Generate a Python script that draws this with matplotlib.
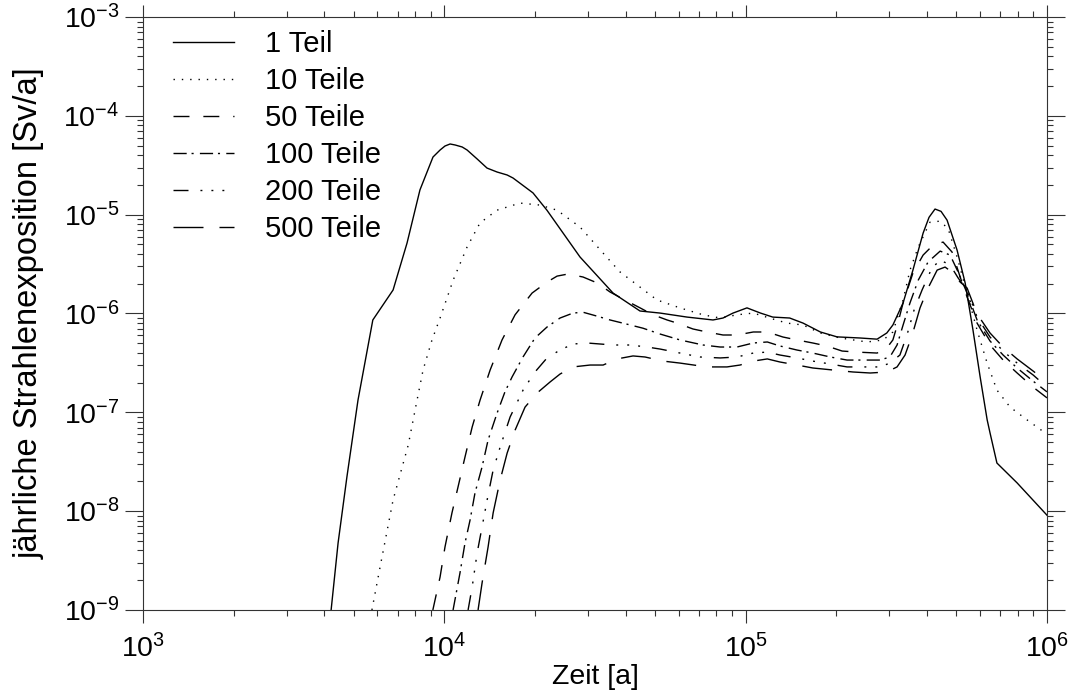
import matplotlib
matplotlib.use("Agg")
import matplotlib.pyplot as plt
from matplotlib.ticker import LogLocator, NullFormatter

plt.rcParams['font.family'] = ['Liberation Sans', 'DejaVu Sans']
plt.rcParams['mathtext.fontset'] = 'custom'
plt.rcParams['mathtext.rm'] = 'Liberation Sans'
plt.rcParams['mathtext.it'] = 'Liberation Sans:italic'
plt.rcParams['mathtext.bf'] = 'Liberation Sans:bold'

# Zeit [a] und jaehrliche Strahlenexposition [Sv/a]
t_1 = [4210, 4440, 4750, 5170, 5790, 6760, 7520, 8300, 9170, 9680, 10050, 10450, 10860, 11460, 11900,
       12850, 13860, 14970, 16160, 16900, 19690, 21900, 28200, 36300, 44600, 52000, 63900, 77900, 84100,
       90800, 101000, 112000, 123000, 140000, 155000, 177000, 201000, 240000, 273000, 294000, 308000,
       333000, 359000, 388000, 406000, 425000, 445000, 466000, 503000, 535000, 568000, 600000, 633000,
       647000, 682000, 796000, 1000000]
d_1 = [1.0e-9, 4.76e-9, 2.22e-8, 1.33e-7, 8.6e-7, 1.73e-6, 5.16e-6, 1.78e-5, 3.83e-5, 4.51e-5, 4.95e-5,
       5.19e-5, 5.07e-5, 4.84e-5, 4.51e-5, 3.66e-5, 2.96e-5, 2.7e-5, 2.52e-5, 2.35e-5, 1.66e-5, 1.11e-5,
       3.73e-6, 1.61e-6, 1.06e-6, 1.01e-6, 9.2e-7, 8.6e-7, 9.0e-7, 1.01e-6, 1.14e-6, 1.01e-6, 9.2e-7,
       9.0e-7, 8.0e-7, 6.5e-7, 5.8e-7, 5.65e-7, 5.5e-7, 6.35e-7, 7.65e-7, 1.28e-6, 2.75e-6, 6.5e-6,
       9.4e-6, 1.14e-5, 1.08e-5, 8.8e-6, 4.38e-6, 2.04e-6, 6.8e-7, 2.28e-7, 8.4e-8, 6.2e-8, 3.07e-8,
       1.93e-8, 9.1e-9]

t_10 = [5750, 6120, 6760, 7590, 8060, 8500, 9100, 9680, 10700, 11900, 13130, 14950, 17830, 20780, 23670,
        28200, 34100, 38300, 44600, 50800, 60500, 72200, 82300, 93600, 106000, 120000, 137000, 155000,
        177000, 206000, 253000, 286000, 308000, 333000, 351000, 374000, 409000, 442000, 470000, 503000,
        543000, 586000, 633000, 682000, 754000, 858000, 1000000]
d_10 = [1.0e-9, 2.72e-9, 1.30e-8, 4.67e-8, 1.19e-7, 2.68e-7, 5.4e-7, 9.0e-7, 2.18e-6, 4.71e-6, 8.24e-6,
        1.11e-5, 1.31e-5, 1.25e-5, 1.11e-5, 7.5e-6, 3.9e-6, 2.63e-6, 1.85e-6, 1.37e-6, 1.14e-6, 9.7e-7,
        9.0e-7, 9.7e-7, 1.01e-6, 9.0e-7, 8.0e-7, 7.65e-7, 6.35e-7, 5.65e-7, 5.15e-7, 5.4e-7, 6.5e-7,
        1.37e-6, 2.75e-6, 4.71e-6, 8.4e-6, 8.6e-6, 7.2e-6, 3.73e-6, 1.61e-6, 6.8e-7, 3.15e-7, 1.68e-7,
        1.13e-7, 8.4e-8, 6.0e-8]

t_50 = [9160, 9680, 10050, 10600, 11100, 11710, 12370, 13140, 14190, 15540, 17170, 19550, 21920, 23670,
        25740, 28860, 32130, 35480, 39190, 44620, 49300, 54860, 59180, 66860, 74400, 84100, 93600, 106000,
        118000, 133000, 148000, 167000, 186000, 209000, 234000, 273000, 294000, 308000, 320000, 333000,
        359000, 388000, 419000, 452000, 484000, 515000, 543000, 586000, 647000, 715000, 796000, 899000,
        1000000]
d_50 = [1.0e-9, 2.16e-9, 4.34e-9, 9.6e-9, 1.75e-8, 3.53e-8, 7.1e-8, 1.33e-7, 2.68e-7, 5.4e-7, 9.7e-7,
        1.61e-6, 2.08e-6, 2.39e-6, 2.51e-6, 2.34e-6, 2.04e-6, 1.65e-6, 1.40e-6, 1.14e-6, 9.7e-7, 8.6e-7,
        8.0e-7, 6.97e-7, 6.5e-7, 6.06e-7, 6.06e-7, 6.5e-7, 6.5e-7, 5.78e-7, 5.4e-7, 5.03e-7, 4.69e-7,
        4.17e-7, 4.07e-7, 3.98e-7, 4.48e-7, 5.4e-7, 8.0e-7, 1.28e-6, 2.57e-6, 3.9e-6, 4.93e-6, 5.28e-6,
        4.19e-6, 2.34e-6, 1.47e-6, 8.0e-7, 4.8e-7, 3.38e-7, 2.5e-7, 1.8e-7, 1.40e-7]

t_100 = [10690, 11270, 11710, 12170, 12640, 13340, 13970, 14960, 15890, 16780, 18240, 19990, 21920, 24210,
         26730, 28860, 32130, 35480, 40380, 45620, 51970, 60560, 72200, 82300, 93600, 106000, 118000,
         130000, 148000, 167000, 191000, 217000, 279000, 301000, 318000, 333000, 351000, 374000, 403000,
         442000, 477000, 507000, 543000, 586000, 647000, 715000, 796000, 899000, 1000000]
d_100 = [1.0e-9, 2.37e-9, 4.76e-9, 8.1e-9, 1.53e-8, 2.8e-8, 5.25e-8, 9.8e-8, 1.61e-7, 2.28e-7, 3.63e-7,
         5.65e-7, 7.3e-7, 9.0e-7, 1.01e-6, 1.03e-6, 9.4e-7, 8.6e-7, 7.8e-7, 7.1e-7, 6.2e-7, 5.4e-7, 4.8e-7,
         4.58e-7, 4.58e-7, 5.03e-7, 5.15e-7, 4.69e-7, 4.27e-7, 3.98e-7, 3.63e-7, 3.38e-7, 3.38e-7, 3.63e-7,
         4.8e-7, 7.65e-7, 1.28e-6, 2.18e-6, 3.32e-6, 4.28e-6, 3.9e-6, 2.63e-6, 1.61e-6, 8.6e-7, 5.27e-7,
         3.8e-7, 2.81e-7, 2.07e-7, 1.61e-7]

t_200 = [11990, 12370, 12850, 13340, 13870, 14520, 15320, 16530, 18250, 19990, 21920, 24210, 26730, 29760,
         36300, 41320, 47080, 51970, 60560, 70600, 82300, 93600, 106000, 118000, 130000, 148000, 167000,
         191000, 217000, 279000, 301000, 325000, 343000, 362000, 385000, 415000, 442000, 477000, 507000,
         543000, 586000, 647000, 715000, 796000, 899000, 1000000]
d_200 = [1.0e-9, 1.71e-9, 3.78e-9, 6.9e-9, 1.30e-8, 2.61e-8, 4.46e-8, 8.97e-8, 1.68e-7, 2.56e-7, 3.55e-7,
         4.27e-7, 4.91e-7, 5.03e-7, 4.8e-7, 4.8e-7, 4.58e-7, 4.37e-7, 3.98e-7, 3.63e-7, 3.55e-7, 3.63e-7,
         3.98e-7, 4.07e-7, 3.8e-7, 3.55e-7, 3.3e-7, 3.08e-7, 2.88e-7, 2.88e-7, 3.15e-7, 3.8e-7, 6.06e-7,
         1.08e-6, 1.73e-6, 2.88e-6, 3.47e-6, 3.1e-6, 2.29e-6, 1.73e-6, 9.2e-7, 5.78e-7, 4.17e-7, 3.15e-7,
         2.39e-7, 1.80e-7]

t_500 = [12940, 13340, 13970, 14520, 15320, 16160, 17170, 18530, 20320, 22440, 24210, 26730, 30460, 33650,
         37430, 42290, 46350, 53200, 60560, 74400, 86700, 95800, 106000, 118000, 130000, 148000, 167000,
         195000, 227000, 259000, 294000, 318000, 338000, 357000, 379000, 403000, 432000, 459000, 488000,
         515000, 543000, 586000, 647000, 715000, 796000, 899000, 1000000]
d_500 = [1.0e-9, 1.87e-9, 4.34e-9, 9.6e-9, 2.07e-8, 3.87e-8, 6.6e-8, 1.13e-7, 1.57e-7, 2.03e-7, 2.44e-7,
         2.88e-7, 3.01e-7, 3.01e-7, 3.47e-7, 3.72e-7, 3.63e-7, 3.3e-7, 3.15e-7, 2.88e-7, 2.88e-7, 3.01e-7,
         3.3e-7, 3.47e-7, 3.23e-7, 3.01e-7, 2.81e-7, 2.68e-7, 2.56e-7, 2.5e-7, 2.56e-7, 2.88e-7, 3.8e-7,
         6.06e-7, 1.14e-6, 1.81e-6, 2.75e-6, 2.95e-6, 2.57e-6, 2.08e-6, 1.81e-6, 9.9e-7, 6.35e-7, 4.58e-7,
         3.47e-7, 2.62e-7, 2.03e-7]

labels = ["1 Teil", "10 Teile", "50 Teile", "100 Teile", "200 Teile", "500 Teile"]

# IDL-artige Linienstile
styles = ['-',
          (0, (1, 5)),
          (0, (11.5, 10)),
          (0, (9.5, 3.5, 1.5, 4.5)),
          (0, (10.8, 8.6, 1.4, 6.5, 1.4, 6.5, 1.4, 8.6)),
          (0, (21.6, 11.5))]

fig = plt.figure(figsize=(10.75, 6.97), dpi=100)
ax = fig.add_axes([143 / 1075, 1 - 610 / 697, 904 / 1075, 593 / 697])

series = [(t_1, d_1), (t_10, d_10), (t_50, d_50), (t_100, d_100), (t_200, d_200), (t_500, d_500)]
for (t, d), ls, lab in zip(series, styles, labels):
    ax.plot(t, d, color='black', lw=1.0, linestyle=ls, label=lab)

ax.set_xscale('log')
ax.set_yscale('log')
ax.set_xlim(1e3, 1e6)
ax.set_ylim(1e-9, 1e-3)

ax.xaxis.set_major_locator(LogLocator(base=10, numticks=10))
ax.yaxis.set_major_locator(LogLocator(base=10, numticks=10))
ax.xaxis.set_minor_locator(LogLocator(base=10, subs=range(2, 10), numticks=100))
ax.yaxis.set_minor_locator(LogLocator(base=10, subs=range(2, 10), numticks=100))
ax.xaxis.set_minor_formatter(NullFormatter())
ax.yaxis.set_minor_formatter(NullFormatter())

ax.tick_params(axis='both', which='both', direction='out', top=True, right=True,
               labelsize=20.5, width=0.8, color='#333333')
ax.tick_params(axis='x', which='major', length=9, pad=8)
ax.tick_params(axis='y', which='major', length=13, pad=4)
ax.tick_params(axis='both', which='minor', length=4.5)
for sp in ax.spines.values():
    sp.set_linewidth(0.8)
    sp.set_color('#333333')

ax.set_xlabel("Zeit [a]", fontsize=20.5, labelpad=1)
ax.set_ylabel("jährliche Strahlenexposition [Sv/a]", fontsize=23.5, labelpad=13)

ax.legend(loc='upper left', bbox_to_anchor=(0.033, 0.978), frameon=False, fontsize=21,
          handlelength=2.1, handletextpad=1.05, labelspacing=0.31, borderpad=0, borderaxespad=0)

fig.savefig("out.png", dpi=100)
